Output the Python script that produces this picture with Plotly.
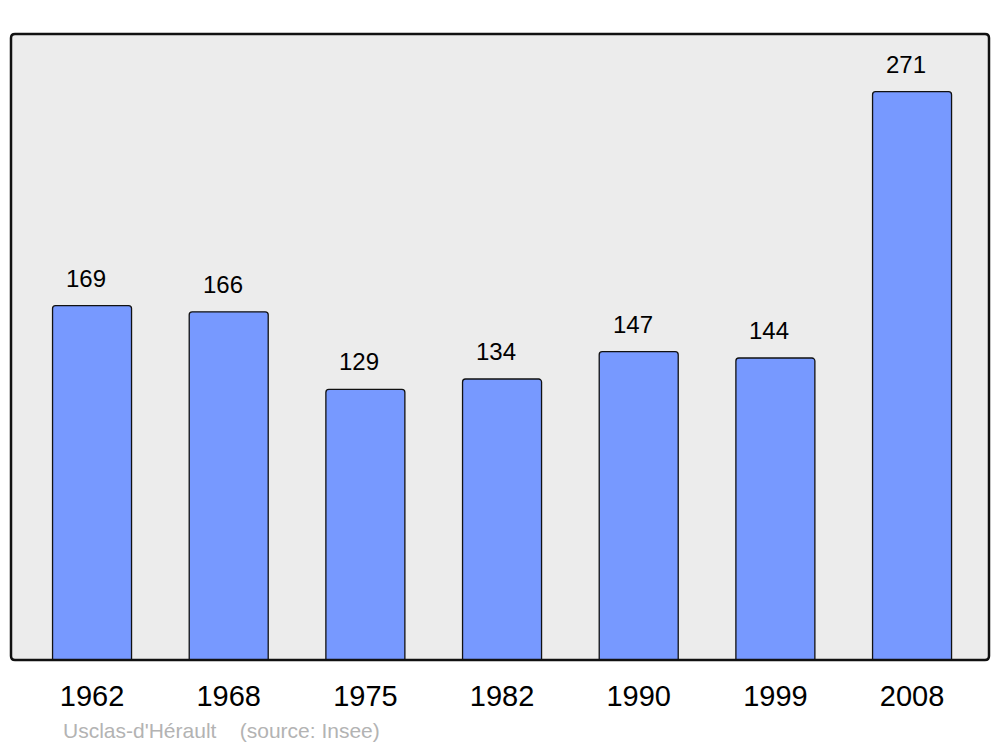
import plotly.graph_objects as go

years = ["1962", "1968", "1975", "1982", "1990", "1999", "2008"]
population = [169, 166, 129, 134, 147, 144, 271]
positions = list(range(len(years)))

BG = "#ececec"
BAR = "#7799ff"

# page body has an 8px margin: shift the figure accordingly
OFF = 8
FIG_W, FIG_H = 1000 - OFF, 747 - OFF
L, T, R, B = 11 - OFF, 34 - OFF, 11, 87
W, H = FIG_W - L - R, FIG_H - T - B

fig = go.Figure()
fig.add_trace(go.Bar(
    x=positions, y=population, width=0.578,
    marker=dict(color=BAR, line=dict(color="#111111", width=1.3)),
    hoverinfo="skip",
))

for xp, v in zip(positions, population):
    fig.add_annotation(x=xp, y=v, text=str(v), showarrow=False,
                       xref="x", yref="y", yanchor="bottom", yshift=12, xshift=-6,
                       font=dict(family="Liberation Sans, Arial, sans-serif", size=24, color="#000000"))

fig.add_annotation(x=(61 - 11) / W, y=-(730 - 660) / H, xref="paper", yref="paper",
                   text="Usclas-d'Hérault&nbsp;&nbsp;&nbsp;&nbsp;(source: Insee)",
                   showarrow=False, xanchor="left", yanchor="middle",
                   font=dict(size=21, color="#b3b3b3"))

# rounded frame
r = 4.0
rx, ry = r / W, r / H
path = (f"M {rx},0 L {1-rx},0 Q 1,0 1,{ry} L 1,{1-ry} Q 1,1 {1-rx},1 "
        f"L {rx},1 Q 0,1 0,{1-ry} L 0,{ry} Q 0,0 {rx},0 Z")
fig.add_shape(type="path", path=path, xref="paper", yref="paper",
              line=dict(color="#111111", width=2.5), layer="above")

fig.update_layout(
    width=FIG_W, height=FIG_H,
    margin=dict(l=L, r=R, t=T, b=B),
    paper_bgcolor="#ffffff", plot_bgcolor=BG,
    showlegend=False,
    barcornerradius=3,
    font=dict(family="Liberation Sans, Arial, sans-serif"),
    xaxis=dict(range=[-0.593, 6.563], tickvals=positions, ticktext=years,
               showgrid=False, zeroline=False, showline=False,
               ticks="outside", ticklen=10, tickcolor="rgba(0,0,0,0)",
               tickfont=dict(size=29, color="#000000"), fixedrange=True),
    yaxis=dict(range=[0, 298.5], showgrid=False, zeroline=False, showline=False,
               showticklabels=False, ticks="", fixedrange=True),
)

fig.write_html("out.html")
